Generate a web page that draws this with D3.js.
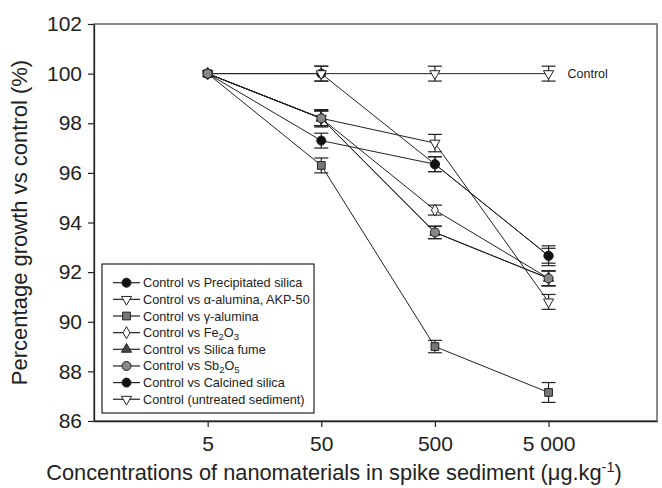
<!DOCTYPE html>
<html>
<head>
<meta charset="utf-8">
<script src="https://cdn.jsdelivr.net/npm/d3@7"></script>
<style>
  body { margin: 0; background: #fff; }
  text { font-family: "Liberation Sans", Arial, sans-serif; fill: #222; }
</style>
</head>
<body>
<script>
var width = 662, height = 488;

// concentrations on the x axis (ug/kg) and their labels
var concentrations = [5, 50, 500, 5000];
var xLabels = ["5", "50", "500", "5 000"];
var yTicks = [86, 88, 90, 92, 94, 96, 98, 100, 102];

// percentage growth vs control
var precipitated = [100, 97.3, 96.35, 92.66];
var alphaAlumina = [100, 98.2, 97.2, 90.8];
var gammaAlumina = [100, 96.3, 89.0, 87.15];
var fe2o3 = [100, 98.2, 94.5, 91.75];
var silicaFume = [100, 98.2, 93.6, 91.75];
var sb2o5 = [100, 98.2, 93.6, 91.75];
var calcined = [100, 100, 96.35, 92.66];
var control = [100, 100, 100, 100];

// half widths of error bars
var errPrecipitated = [0, 0.3, 0.3, 0.3];
var errAlpha = [0, 0.3, 0.35, 0.3];
var errGamma = [0, 0.3, 0.25, 0.4];
var errFe = [0, 0.3, 0.2, 0.3];
var errFume = [0, 0.3, 0.25, 0.3];
var errSb = [0, 0.35, 0.25, 0.3];
var errCalcined = [0, 0.3, 0.3, 0.4];
var errControl = [0, 0.3, 0.3, 0.3];

var series = [
  {name: "Control vs Precipitated silica", values: precipitated, err: errPrecipitated, shape: "circle", fill: "#111"},
  {name: "Control vs \u03b1-alumina, AKP-50", values: alphaAlumina, err: errAlpha, shape: "down", fill: "#fff"},
  {name: "Control vs  \u03b3-alumina", values: gammaAlumina, err: errGamma, shape: "square", fill: "#777"},
  {name: "Control vs Fe|2|O|3", values: fe2o3, err: errFe, shape: "diamond", fill: "#fff"},
  {name: "Control vs Silica fume", values: silicaFume, err: errFume, shape: "up", fill: "#444"},
  {name: "Control vs Sb|2|O|5", values: sb2o5, err: errSb, shape: "circle", fill: "#888"},
  {name: "Control vs Calcined silica", values: calcined, err: errCalcined, shape: "circle", fill: "#111"},
  {name: "Control (untreated sediment)", values: control, err: errControl, shape: "down", fill: "#fff"}
];

var margin = {left: 94, right: 5, top: 24, bottom: 67};

var x = d3.scaleLog().domain([0.5, 45000]).range([margin.left, width - margin.right]);
var y = d3.scaleLinear().domain([86, 102]).range([height - margin.bottom, margin.top]);

var svg = d3.select("body").append("svg").attr("width", width).attr("height", height);

//frame: gray top/right edges
svg.append("rect")
  .attr("x", margin.left).attr("y", margin.top)
  .attr("width", width - margin.right - margin.left)
  .attr("height", height - margin.bottom - margin.top)
  .attr("fill", "none").attr("stroke", "#666").attr("stroke-width", 1.5);

var xAxis = svg.append("g")
  .attr("transform", "translate(0," + (height - margin.bottom) + ")")
  .call(d3.axisBottom(x).tickValues(concentrations)
    .tickFormat(function(d, i) { return xLabels[i]; })
    .tickSize(6).tickSizeOuter(0).tickPadding(9));

var yAxis = svg.append("g")
  .attr("transform", "translate(" + margin.left + ",0)")
  .call(d3.axisLeft(y).tickValues(yTicks).tickSize(6).tickSizeOuter(0).tickPadding(6));

[xAxis, yAxis].forEach(function(a) {
  a.select(".domain").attr("stroke", "#222").attr("stroke-width", 1.3);
  a.selectAll(".tick line").attr("stroke", "#222").attr("stroke-width", 1.2);
  a.selectAll("text").attr("font-size", 21).attr("fill", "#222")
    .attr("font-family", "Liberation Sans, Arial, sans-serif");
});

var symbolFor = {
  circle: d3.symbolCircle, square: d3.symbolSquare, diamond: d3.symbolDiamond,
  up: d3.symbolTriangle, down: d3.symbolTriangle
};
function symbolPath(shape) {
  var size = shape === "square" ? 60 : shape === "diamond" ? 42 : shape === "circle" ? 64 : 44;
  return d3.symbol().type(symbolFor[shape]).size(size)();
}
function symbolTransform(shape, px, py) {
  return "translate(" + px + "," + py + ")" + (shape === "down" ? " rotate(180)" : "");
}

var line = d3.line()
  .x(function(d, i) { return x(concentrations[i]); })
  .y(function(d) { return y(d); });

var plot = svg.append("g");

// lines first
series.slice().reverse().forEach(function(s) {
  plot.append("path").datum(s.values)
    .attr("d", line).attr("fill", "none").attr("stroke", "#222").attr("stroke-width", 1);
});

// error bars
series.forEach(function(s) {
  s.values.forEach(function(v, i) {
    if (!s.err[i]) return;
    var px = x(concentrations[i]), y0 = y(v - s.err[i]), y1 = y(v + s.err[i]);
    var g = plot.append("g").attr("stroke", "#222").attr("stroke-width", 1.2);
    g.append("line").attr("x1", px).attr("x2", px).attr("y1", y0).attr("y2", y1);
    g.append("line").attr("x1", px - 7).attr("x2", px + 7).attr("y1", y0).attr("y2", y0);
    g.append("line").attr("x1", px - 7).attr("x2", px + 7).attr("y1", y1).attr("y2", y1);
  });
});

// markers: control drawn on top, the gray circle sits on top at the shared start point
function drawMarker(s, i) {
  plot.append("path")
    .attr("d", symbolPath(s.shape))
    .attr("transform", symbolTransform(s.shape, x(concentrations[i]), y(s.values[i])))
    .attr("fill", s.fill).attr("stroke", "#222").attr("stroke-width", 1);
}
series.forEach(function(s) {
  s.values.forEach(function(v, i) { if (i > 0) drawMarker(s, i); });
});
series.forEach(function(s) { if (s !== series[5]) drawMarker(s, 0); });
drawMarker(series[5], 0);

svg.append("text")
  .attr("x", x(5000) + 19).attr("y", y(100) + 4.5)
  .attr("font-size", 12.5).text("Control");

// legend
var legend = svg.append("g");
legend.append("rect")
  .attr("x", 102).attr("y", 264).attr("width", 212).attr("height", 149)
  .attr("fill", "#fff").attr("stroke", "#222").attr("stroke-width", 1.2);

series.forEach(function(s, i) {
  var ly = 282.7 + i * 16.65;
  legend.append("line").attr("x1", 113).attr("x2", 140).attr("y1", ly).attr("y2", ly)
    .attr("stroke", "#222").attr("stroke-width", 1.2);
  legend.append("path").attr("d", symbolPath(s.shape))
    .attr("transform", symbolTransform(s.shape, 126.5, ly))
    .attr("fill", s.fill).attr("stroke", "#222").attr("stroke-width", 1);
  var t = legend.append("text").attr("x", 143).attr("y", ly + 4.5).attr("font-size", 12.7);
  s.name.split("|").forEach(function(part, j) {
    var sp = t.append("tspan").text(part);
    if (j % 2 === 1) sp.attr("baseline-shift", "-3").attr("font-size", 9.5);
  });
});

// axis titles
svg.append("text")
  .attr("transform", "translate(27," + ((margin.top + height - margin.bottom) / 2) + ") rotate(-90)")
  .attr("text-anchor", "middle").attr("font-size", 22)
  .text("Percentage growth vs control (%)");

var xt = svg.append("text")
  .attr("x", 334).attr("y", 480)
  .attr("text-anchor", "middle").attr("font-size", 21.8);
xt.append("tspan").text("Concentrations of nanomaterials in spike sediment (\u03bcg.kg");
xt.append("tspan").attr("baseline-shift", "super").attr("font-size", 14.5).text("-1");
xt.append("tspan").text(")");
</script>
</body>
</html>
